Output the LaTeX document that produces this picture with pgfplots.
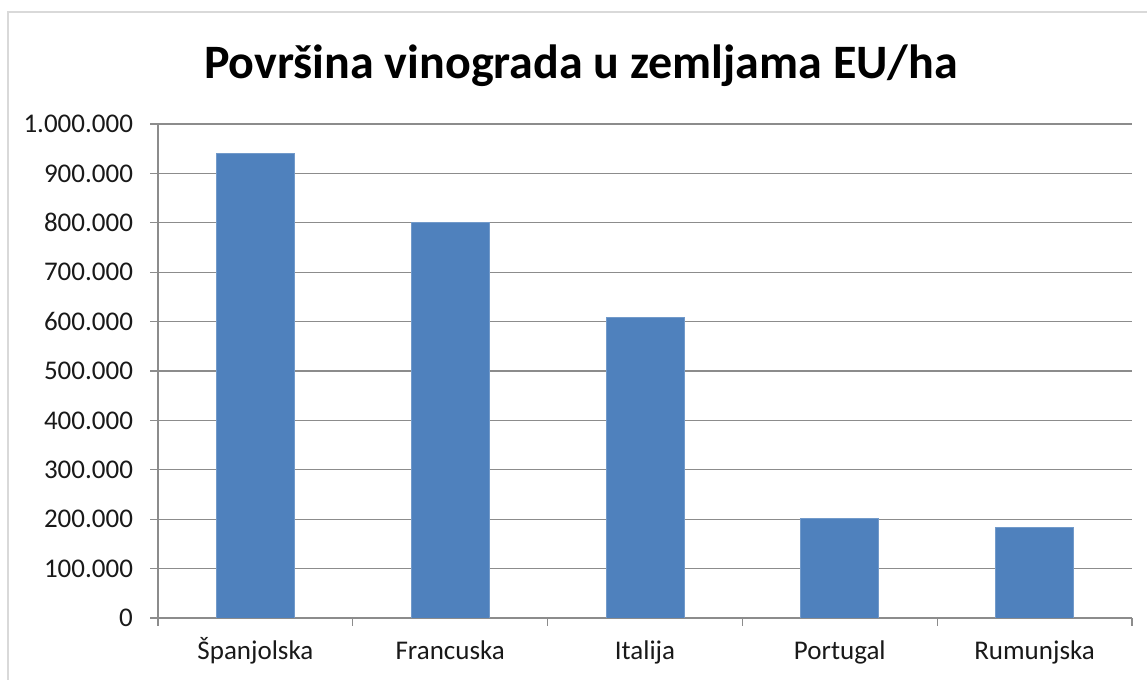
\documentclass[border=0pt]{standalone}
\usepackage{pgfplots}
\pgfplotsset{compat=1.18}
\usepackage{fontspec}
\setmainfont{Carlito}
\definecolor{barblue}{HTML}{4F81BD}
\definecolor{gridgrey}{HTML}{8C8C8C}
\definecolor{framegrey}{HTML}{D9D9D9}
\begin{document}
\begin{tikzpicture}
\useasboundingbox (0pt,0pt) rectangle (573.5pt,340pt);
\draw[framegrey, line width=1pt] (4pt,0pt) -- (4pt,334pt) -- (573.5pt,334pt);
\node[font=\fontsize{24}{28}\selectfont\bfseries, anchor=base] at (290.5pt,300.5pt) {Površina vinograda u zemljama EU/ha};
\begin{axis}[
  at={(79pt,31pt)}, anchor=south west,
  scale only axis, width=487pt, height=247pt,
  xmin=-0.5, xmax=4.5, ymin=0, ymax=1000000,
  axis x line*=bottom, axis y line*=left,
  axis line style={gridgrey, line width=0.6pt, -},
  ytick={0,100000,...,1000000},
  scaled y ticks=false,
  /pgf/number format/.cd, fixed, 1000 sep={.}, assume math mode=true, /pgfplots/.cd,
  ymajorgrids, grid style={gridgrey, line width=0.6pt},
  tick align=outside, major tick length=4pt,
  tick style={gridgrey, line width=0.6pt},
  xtick={-0.5,0.5,1.5,2.5,3.5,4.5}, xticklabels={},
  extra x ticks={0,1,2,3,4},
  extra x tick labels={Španjolska,Francuska,Italija,Portugal,Rumunjska},
  extra x tick style={major tick length=0pt, grid=none},
  ticklabel style={font=\fontsize{13.5}{16}\selectfont, text=black!90},
  x tick label style={anchor=base, yshift=-21pt},
  y tick label style={anchor=east, xshift=-5pt},
]
\addplot[ybar, bar width=0.4, fill=barblue, draw=barblue!80!white] coordinates {
  (0,941000) (1,801000) (2,608000) (3,201000) (4,183000)
};
\end{axis}
\end{tikzpicture}
\end{document}
